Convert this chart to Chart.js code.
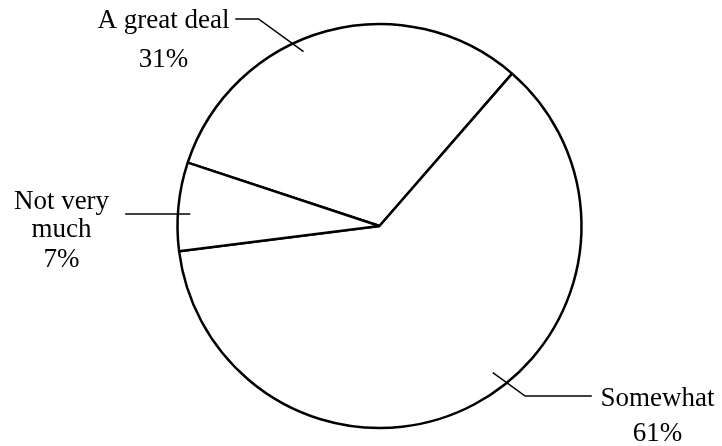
<!DOCTYPE html>
<html>
<head>
<meta charset="utf-8">
<script src="https://cdn.jsdelivr.net/npm/chart.js@4/dist/chart.umd.min.js"></script>
<style>
  html, body { margin: 0; padding: 0; background: #fff; }
  #wrap { width: 722px; height: 446px; }
</style>
</head>
<body>
<div id="wrap"><canvas id="pie" width="722" height="446"></canvas></div>
<script>
// data
const categories = ["A great deal", "Somewhat", "Not very much"];
const values = [31, 61, 7];

// callout text lines + leader geometry (fractions of radius from centre)
const callouts = [
  { lines: ["A great deal"], path: [[-0.376, -0.863], [-0.599, -1.025], [-0.714, -1.025]], tx: -216, ty: [-198, -159] },
  { lines: ["Somewhat"], path: [[0.561, 0.726], [0.721, 0.842], [1.051, 0.842]], tx: 278, ty: [180, 215] },
  { lines: ["Not very", "much"], path: [[-0.937, -0.059], [-1.259, -0.059]], tx: -318, ty: [-17, 11, 41] }
];

const leaders = {
  id: "leaders",
  afterDatasetsDraw(chart) {
    const ctx = chart.ctx;
    const arcs = chart.getDatasetMeta(0).data;
    ctx.save();
    ctx.strokeStyle = "#000";
    ctx.lineWidth = 1.5;
    ctx.fillStyle = "#000";
    ctx.font = '27px "Liberation Serif"';
    ctx.textAlign = "center";
    arcs.forEach((arc, i) => {
      const c = callouts[i];
      const r = arc.outerRadius;
      ctx.beginPath();
      c.path.forEach(([px, py], j) => {
        const X = arc.x + px * r, Y = arc.y + py * r;
        if (j) ctx.lineTo(X, Y); else ctx.moveTo(X, Y);
      });
      ctx.stroke();
      const txt = c.lines.concat([values[i] + "%"]);
      txt.forEach((t, j) => ctx.fillText(t, arc.x + c.tx, arc.y + c.ty[j]));
    });
    ctx.restore();
  }
};

new Chart(document.getElementById("pie"), {
  type: "pie",
  data: {
    labels: categories,
    datasets: [{
      data: values,
      backgroundColor: "#fff",
      borderColor: "#000",
      borderWidth: 2.5
    }]
  },
  options: {
    responsive: false,
    animation: false,
    rotation: -71.7,
    radius: 202,
    layout: { padding: { left: 37, top: 6 } },
    plugins: { legend: { display: false }, tooltip: { enabled: false } }
  },
  plugins: [leaders]
});
</script>
</body>
</html>
